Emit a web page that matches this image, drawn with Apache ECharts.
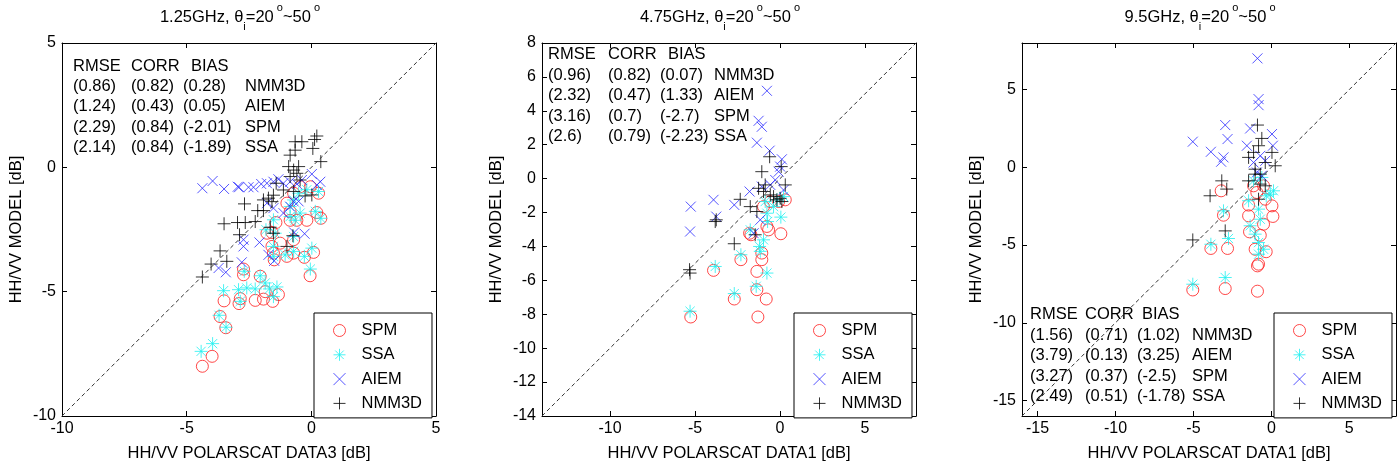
<!DOCTYPE html>
<html>
<head>
<meta charset="utf-8">
<script src="https://cdn.jsdelivr.net/npm/echarts@6/dist/echarts.min.js"></script>
<style>
  html, body { margin: 0; background: #fff; }
  #chart { width: 1398px; height: 467px; }
</style>
</head>
<body>
<div id="chart"></div>
<script>
// ---- data ----
const seriesNames = ['SPM', 'SSA', 'AIEM', 'NMM3D']
const statHeader = ['RMSE', 'CORR', 'BIAS']

// panel 1: 1.25 GHz
const p1Range = [-10, 5]
const p1XTicks = [-10, -5, 0, 5]
const p1YTicks = [-10, -5, 0, 5]
const p1SPM = [[-4.37,-8.0],[-3.98,-7.6],[-3.66,-6.0],[-3.43,-6.45],[-3.5,-5.37],[-2.9,-5.48],[-2.85,-5.28],[-2.25,-5.35],[-1.92,-5.3],[-1.55,-5.39],[-1.32,-5.12],[-1.85,-5.0],[-2.05,-4.38],[-2.72,-4.09],[-2.72,-4.32],[-1.58,-2.62],[-1.78,-2.65],[-1.42,-2.22],[-1.52,-3.45],[-1.49,-3.72],[-0.98,-3.58],[-0.71,-3.45],[-0.28,-3.62],[0.09,-3.42],[-0.05,-4.36],[-0.85,-2.13],[-0.58,-2.13],[-0.18,-2.13],[0.22,-1.82],[0.38,-2.05],[0.29,-1.04],[-0.04,-0.78],[-0.45,-0.78],[-0.71,-1.04],[-0.98,-1.44],[-0.85,-1.78],[-0.71,-2.91],[-1.25,-3.05],[-1.58,-3.18]]
const p1SSA = [[-4.42,-7.4],[-3.96,-7.09],[-3.7,-5.95],[-3.42,-6.43],[-3.52,-4.96],[-2.92,-4.92],[-2.85,-5.39],[-2.59,-4.85],[-2.25,-4.89],[-2.05,-4.36],[-1.85,-4.65],[-1.68,-4.89],[-1.38,-4.81],[-1.52,-5.2],[-2.69,-4.18],[-1.82,-2.51],[-1.52,-2.11],[-1.45,-2.65],[-1.52,-3.18],[-1.52,-3.58],[-1.05,-3.52],[-0.71,-3.38],[-0.28,-3.58],[0.02,-3.25],[-0.04,-4.09],[-0.85,-1.98],[-0.65,-2.13],[-0.45,-1.84],[0.16,-1.77],[0.38,-2.05],[0.29,-0.97],[-0.18,-0.9],[-0.51,-1.04],[-0.71,-1.31],[-0.85,-1.58],[-0.71,-2.78]]
const p1AIEM = [[-4.37,-0.84],[-3.96,-0.55],[-3.5,-0.87],[-2.95,-0.78],[-2.9,-0.8],[-2.52,-0.8],[-2.32,-0.8],[-2.01,-0.67],[-1.78,-0.64],[-1.52,-0.58],[-1.32,-0.48],[-1.12,-0.64],[-0.85,-0.58],[-0.58,-0.67],[-0.38,-0.51],[0.02,-0.27],[0.36,-0.58],[0.22,-0.71],[-2.72,-2.91],[-2.72,-3.18],[-2.08,-3.02],[-1.72,-3.52],[-1.49,-3.76],[-3.72,-4.05],[-3.43,-4.22],[-2.79,-3.82],[-0.69,-2.62],[-0.27,-2.67],[-0.71,-1.37],[-0.85,-1.58],[-1.12,-1.84],[-1.52,-1.64],[-0.51,-1.37],[-1.78,-1.44]]
const p1NMM3D = [[-4.37,-4.41],[-4.02,-3.89],[-3.66,-3.36],[-3.39,-3.78],[-3.5,-2.27],[-2.96,-2.22],[-2.65,-2.22],[-2.25,-2.18],[-2.68,-1.47],[-2.88,-2.71],[-2.15,-1.74],[-1.92,-1.74],[-1.92,-1.31],[-1.72,-1.24],[-1.58,-1.38],[-1.52,-1.12],[-1.65,-2.41],[-1.52,-2.65],[-1.41,-0.64],[-1.12,-0.91],[-0.98,-3.18],[-0.74,-2.75],[-0.91,0.03],[-0.85,0.49],[-0.65,0.69],[-0.65,1.03],[-0.38,1.03],[-0.71,-0.11],[-0.58,-0.24],[-0.85,-0.37],[-0.51,0.03],[0.06,0.76],[0.13,1.12],[0.22,1.26],[0.38,0.23],[-0.25,-1.15],[0.02,-1.11],[-0.71,-0.97],[-0.45,-0.51]]
const p1Stats = [
  ['(0.86)', '(0.82)', '(0.28)', 'NMM3D'],
  ['(1.24)', '(0.43)', '(0.05)', 'AIEM'],
  ['(2.29)', '(0.84)', '(-2.01)', 'SPM'],
  ['(2.14)', '(0.84)', '(-1.89)', 'SSA']
]

// panel 2: 4.75 GHz
const p2Range = [-14, 8]
const p2XTicks = [-10, -5, 0, 5]
const p2YTicks = [-14, -12, -10, -8, -6, -4, -2, 0, 2, 4, 6, 8]
const p2SPM = [[-5.25,-8.16],[-3.91,-5.41],[-2.69,-7.1],[-2.3,-4.78],[-1.79,-3.22],[-1.71,-3.31],[-1.3,-8.16],[-0.81,-7.1],[-1.36,-6.55],[-1.36,-5.47],[-1.07,-4.78],[-1.07,-4.39],[-0.77,-2.82],[-0.67,-3.02],[0.05,-3.25],[-0.08,-1.35],[0.31,-1.25],[-0.57,-1.35],[-0.97,-1.65]]
const p2SSA = [[-5.29,-7.82],[-3.81,-5.18],[-2.69,-6.78],[-2.3,-4.49],[-1.75,-3.02],[-1.4,-6.35],[-0.77,-5.57],[-0.97,-3.61],[-1.2,-4.0],[-1.16,-4.29],[-0.73,-2.53],[-0.77,-2.04],[0.05,-2.27],[-0.18,-1.25],[0.21,-1.06],[-0.87,-1.35],[-0.38,-1.65]]
const p2AIEM = [[-5.25,-1.65],[-5.29,-3.12],[-3.91,-1.25],[-3.75,-2.24],[-2.69,-1.55],[-1.79,-0.76],[-0.77,5.18],[-1.26,3.41],[-1.07,3.06],[-1.36,2.12],[-0.61,1.65],[0.11,1.14],[0.01,0.71],[-0.08,0.41],[-0.57,-0.37],[-1.07,-0.47],[0.21,-0.67],[-1.16,-2.43],[-1.55,-3.22],[-0.28,-0.08]]
const p2NMM3D = [[-5.32,-5.37],[-5.29,-5.57],[-3.81,-2.53],[-3.75,-2.43],[-2.69,-3.84],[-2.34,-1.22],[-1.75,-1.65],[-1.36,-1.94],[-1.46,-3.31],[-1.07,0.41],[-0.61,1.29],[0.07,0.71],[0.31,-0.37],[-1.26,-0.57],[-0.87,-0.37],[-0.97,-0.76],[-0.57,-0.96],[-0.18,-1.25],[0.01,-1.16],[0.11,-1.35],[-0.38,-1.06]]
const p2Stats = [
  ['(0.96)', '(0.82)', '(0.07)', 'NMM3D'],
  ['(2.32)', '(0.47)', '(1.33)', 'AIEM'],
  ['(3.16)', '(0.7)', '(-2.7)', 'SPM'],
  ['(2.6)', '(0.79)', '(-2.23)', 'SSA']
]

// panel 3: 9.5 GHz
const p3Range = [-16, 8]
const p3XTicks = [-15, -10, -5, 0, 5]
const p3YTicks = [-15, -10, -5, 0, 5]
const p3SPM = [[-5.04,-7.89],[-2.96,-7.8],[-0.89,-7.97],[-3.88,-5.22],[-2.81,-5.22],[-3.07,-3.08],[-3.22,-1.51],[-1.14,-1.19],[-1.46,-2.43],[-1.46,-3.12],[-1.4,-4.15],[-1.04,-5.27],[-0.82,-6.23],[-0.89,-6.34],[-0.33,-5.43],[-0.71,-4.37],[-0.5,-3.66],[0.1,-3.16],[0.04,-2.48],[-0.39,-2.05],[-0.5,-1.19],[-0.93,-1.62]]
const p3SSA = [[-5.04,-7.52],[-2.96,-7.09],[-3.88,-4.95],[-2.75,-4.58],[-3.07,-2.8],[-1.46,-2.15],[-1.36,-3.76],[-0.82,-4.84],[-0.82,-5.59],[-0.5,-5.27],[-0.82,-2.69],[-0.71,-3.34],[-0.61,-0.65],[-1.14,-0.87],[-0.07,-1.73],[0.14,-1.51],[-0.33,-1.83],[-1.04,-4.3]]
const p3AIEM = [[-5.04,1.65],[-3.88,1.0],[-2.96,2.72],[-2.81,1.82],[-3.07,0.64],[-3.22,0.36],[-0.89,7.01],[-0.82,4.39],[-0.82,4.0],[-1.36,2.5],[0.04,2.14],[-1.57,1.39],[0.1,1.39],[-0.71,0.74],[-1.14,0.31],[-0.39,0.42],[-0.93,-0.33],[-0.61,-0.54]]
const p3NMM3D = [[-5.04,-4.67],[-3.93,-1.83],[-3.18,-0.87],[-2.86,-1.4],[-2.96,-4.09],[-0.89,2.72],[-0.61,1.86],[-0.82,1.39],[-1.14,0.96],[-1.46,0.64],[0.04,0.96],[0.25,0.1],[-0.39,0.31],[-1.04,-0.12],[-0.71,-0.44],[-1.46,-0.87],[-0.71,-1.08],[-0.39,-1.19],[-0.82,-2.05],[-1.04,-0.44]]
const p3Stats = [
  ['(1.56)', '(0.71)', '(1.02)', 'NMM3D'],
  ['(3.79)', '(0.13)', '(3.25)', 'AIEM'],
  ['(3.27)', '(0.37)', '(-2.5)', 'SPM'],
  ['(2.49)', '(0.51)', '(-1.78)', 'SSA']
]

// ---- layout / styles ----
const FONT = "'Liberation Sans', Arial, sans-serif"
const TXT = 16.5
const panels = [
  { freq: '1.25GHz', range: p1Range, xTicks: p1XTicks, yTicks: p1YTicks, data: [p1SPM, p1SSA, p1AIEM, p1NMM3D], stats: p1Stats,
    xName: 'HH/VV POLARSCAT DATA3 [dB]', left: 62, headX: [73, 131, 191], colX: [73, 131, 183, 245], statY: 66, statStep: 20.4 },
  { freq: '4.75GHz', range: p2Range, xTicks: p2XTicks, yTicks: p2YTicks, data: [p2SPM, p2SSA, p2AIEM, p2NMM3D], stats: p2Stats,
    xName: 'HH/VV POLARSCAT DATA1 [dB]', left: 542, headX: [548, 608, 668], colX: [548, 608, 660, 714], statY: 54.5, statStep: 20.6 },
  { freq: '9.5GHz', range: p3Range, xTicks: p3XTicks, yTicks: p3YTicks, data: [p3SPM, p3SSA, p3AIEM, p3NMM3D], stats: p3Stats,
    xName: 'HH/VV POLARSCAT DATA1 [dB]', left: 1022, headX: [1030, 1085, 1142], colX: [1030, 1085, 1137, 1192], statY: 314.5, statStep: 20.6 }
]
const TOP = 43, SIZE = 374

const markers = [
  { symbol: 'circle', size: 12, color: '#ff1a1a' },
  { symbol: 'path://M5 0L5 10M0 5L10 5M1.46 1.46L8.54 8.54M8.54 1.46L1.46 8.54', size: 13, color: '#1ef0f0' },
  { symbol: 'path://M0 0L10 10M10 0L0 10', size: 10, color: '#2a2aff' },
  { symbol: 'path://M5 0L5 10M0 5L10 5', size: 13, color: '#000' }
]

const grids = [], xAxes = [], yAxes = [], series = [], legends = [], graphics = []

panels.forEach((p, i) => {
  grids.push({ left: p.left, top: TOP, width: SIZE, height: SIZE })

  const line = { lineStyle: { color: '#000', width: 1 } }
  const tick = (vals) => ({ inside: true, length: 5, customValues: vals, lineStyle: { color: '#000' } })
  const lab = (vals, margin) => ({ customValues: vals, margin: margin, fontSize: 16, color: '#000', fontFamily: FONT })

  xAxes.push({
    gridIndex: i, type: 'value', min: p.range[0], max: p.range[1], position: 'bottom',
    axisLine: Object.assign({ onZero: false }, line), axisTick: tick(p.xTicks), axisLabel: lab(p.xTicks, 5),
    splitLine: { show: false },
    name: p.xName, nameLocation: 'middle', nameGap: 29,
    nameTextStyle: { fontSize: TXT, color: '#000', fontFamily: FONT }
  })
  xAxes.push({
    gridIndex: i, type: 'value', min: p.range[0], max: p.range[1], position: 'top',
    axisLine: Object.assign({ onZero: false }, line), axisTick: tick(p.xTicks),
    axisLabel: { show: false }, splitLine: { show: false }
  })
  yAxes.push({
    gridIndex: i, type: 'value', min: p.range[0], max: p.range[1], position: 'left',
    axisLine: Object.assign({ onZero: false }, line), axisTick: tick(p.yTicks), axisLabel: lab(p.yTicks, 6),
    splitLine: { show: false },
    name: 'HH/VV MODEL [dB]', nameLocation: 'middle', nameGap: 37,
    nameTextStyle: { fontSize: TXT, color: '#000', fontFamily: FONT }
  })
  yAxes.push({
    gridIndex: i, type: 'value', min: p.range[0], max: p.range[1], position: 'right',
    axisLine: Object.assign({ onZero: false }, line), axisTick: tick(p.yTicks),
    axisLabel: { show: false }, splitLine: { show: false }
  })

  // 1:1 reference line
  series.push({
    name: '1:1', type: 'line', xAxisIndex: 2 * i, yAxisIndex: 2 * i,
    data: [[p.range[0], p.range[0]], [p.range[1], p.range[1]]],
    symbol: 'none', silent: true,
    lineStyle: { color: '#333', width: 1, type: [4, 3] }
  })

  seriesNames.forEach((name, k) => {
    const m = markers[k]
    series.push({
      name: name, type: 'scatter', xAxisIndex: 2 * i, yAxisIndex: 2 * i,
      data: p.data[k], symbol: m.symbol, symbolSize: m.size,
      itemStyle: { color: 'transparent', borderColor: m.color, borderWidth: 1 },
      emphasis: { disabled: true }
    })
  })

  legends.push({
    data: seriesNames, orient: 'vertical',
    left: p.left + 252, top: 313,
    padding: [9, 10, 6, 19], itemGap: 7.3, itemWidth: 34, itemHeight: 12,
    backgroundColor: '#fff', borderColor: '#000', borderWidth: 1, borderRadius: 0,
    itemStyle: { borderWidth: 1 },
    textStyle: { fontSize: TXT, lineHeight: 16, color: '#000', fontFamily: FONT },
    selectedMode: false
  })

  // title with subscript / superscript
  graphics.push({
    type: 'text', x: p.left + SIZE / 2 - 9, y: 17,
    style: {
      text: p.freq + ', θ{sub|i}=20{sup| o}~50{sup| o}',
      align: 'center', verticalAlign: 'middle', fill: '#000',
      fontSize: TXT, fontFamily: FONT, lineHeight: 30,
      rich: {
        sub: { fontSize: 11, lineHeight: 11, verticalAlign: 'bottom', fontFamily: FONT, fill: '#000' },
        sup: { fontSize: 11, lineHeight: 22, verticalAlign: 'top', fontFamily: FONT, fill: '#000' }
      }
    }
  })

  // statistics table
  statHeader.forEach((h, c) => {
    graphics.push({ type: 'text', x: p.headX[c], y: p.statY,
      style: { text: h, fill: '#000', fontSize: TXT, fontFamily: FONT, verticalAlign: 'middle' } })
  })
  p.stats.forEach((row, r) => {
    row.forEach((cell, c) => {
      graphics.push({ type: 'text', x: p.colX[c], y: p.statY + (r + 1) * p.statStep,
        style: { text: cell, fill: '#000', fontSize: TXT, fontFamily: FONT, verticalAlign: 'middle' } })
    })
  })
})

const chart = echarts.init(document.getElementById('chart'))
chart.setOption({
  animation: false,
  backgroundColor: '#fff',
  textStyle: { fontFamily: FONT },
  grid: grids,
  xAxis: xAxes,
  yAxis: yAxes,
  legend: legends,
  series: series,
  graphic: graphics
})
</script>
</body>
</html>
